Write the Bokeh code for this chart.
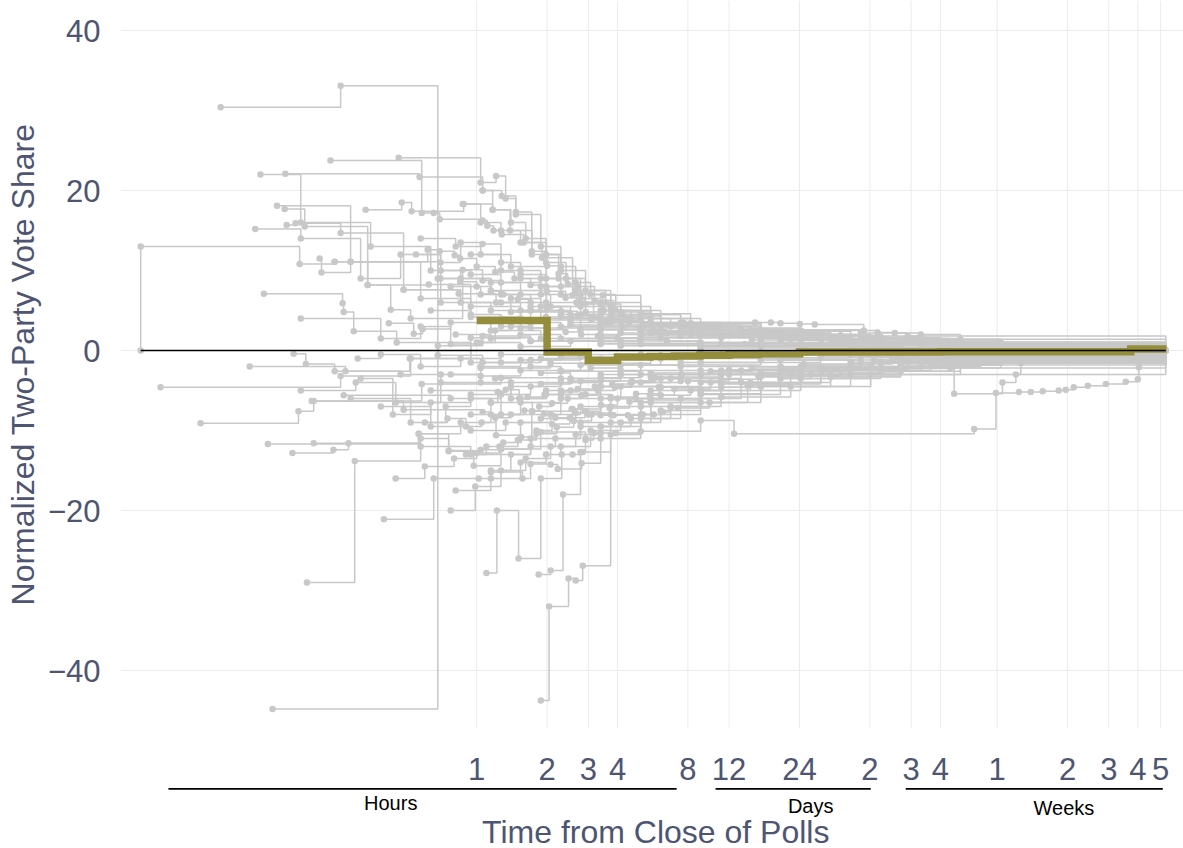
from bokeh.plotting import figure
from bokeh.layouts import column
from bokeh.models import Range1d, FixedTicker, ColumnDataSource
from bokeh.embed import file_html
from bokeh.resources import INLINE
from bokeh.core.properties import value

# ---------------- data: hours since close of polls, normalized two-party share ----------------
r01_t = [0.0366, 0.0366, 0.175, 0.247, 0.576, 0.943, 1.54, 3.39, 11.1, 48.4, 883]
r01_v = [0.0, 13.0, 10.8, 11.1, 6.5, 4.2, 2.8, 1.6, 0.8, 0.3, 0.0]
r02_t = [0.0804, 0.262, 0.682, 1.06, 1.70, 2.78, 5.03, 13.5, 65.0, 883]
r02_v = [30.4, 33.1, -0.6, -1.5, -1.2, -0.8, -0.5, -0.3, -0.1, 0.0]
r03_t = [0.134, 0.682, 1.06, 1.70, 3.39, 9.07, 39.7, 174, 883]
r03_v = [-44.8, 0.6, 1.8, 1.2, 0.9, 0.5, 0.3, 0.1, 0.0]
r04_t = [0.0445, 0.262, 0.522, 0.943, 1.70, 4.13, 24.3, 883]
r04_v = [-4.6, -3.2, -1.0, 1.6, 1.2, 0.6, 0.2, 0.0]
r05_t = [0.066, 0.173, 0.201, 0.582, 1.27, 2.29, 5.03, 16.4, 96.4, 883]
r05_v = [-9.1, -7.6, -6.3, -4.2, -3.4, -2.6, -1.8, -0.9, -0.3, 0.0]
r06_t = [0.107, 0.275, 0.517, 1.04, 2.07, 5.55, 39.7, 883]
r06_v = [-2.0, -2.6, -1.0, -2.2, -1.6, -0.9, -0.4, 0.0]
r07_t = [0.123, 0.267, 0.270, 0.298, 0.455, 0.943, 1.88, 6.12, 65.0]
r07_v = [7.1, 5.9, 4.8, 2.4, 1.0, -1.5, -1.0, -0.6, -0.2]
r08_t = [0.140, 0.289, 0.682, 1.15, 1.98, 3.39, 7.45, 24.3, 96.4, 883]
r08_v = [18.1, 11.1, 9.0, 7.5, 6.0, 4.5, 2.8, 1.5, 0.6, 0.0]
r09_t = [0.152, 0.570, 1.06, 1.28, 1.47, 1.72, 2.0, 2.24, 2.45, 2.70, 3.19, 3.85, 5.18, 9.07, 32.6, 174, 883]
r09_v = [22.1, 21.7, 20.0, 19.3, 17.3, 12.4, 10.6, 9.6, 8.3, 8.0, 6.25, 3.75, 3.1, 2.3, 1.3, 0.6, 0.0]
r10_t = [0.151, 0.184, 0.342, 0.624, 0.943, 1.54, 2.78, 6.12, 22.0, 883]
r10_v = [17.7, 15.5, 8.2, 8.25, 5.5, 4.0, 2.6, 1.6, 0.8, 0.0]
r11_t = [0.154, 0.168, 0.262, 0.487, 0.854, 1.40, 2.52, 5.03, 16.4, 883]
r11_v = [15.7, 15.9, 14.7, 7.6, 6.0, 4.8, 3.2, 2.0, 1.0, 0.0]
r12_t = [0.237, 0.582, 0.655, 0.695, 1.06, 1.11, 1.18, 1.28, 1.59, 1.90, 2.57, 2.73, 3.16, 4.47, 5.72, 11.1, 39.7, 174, 883]
r12_v = [23.75, 17.2, 17.2, 16.4, 16.25, 15.6, 15.0, 14.5, 13.5, 11.6, 6.9, 5.8, 4.2, 3.5, 2.5, 1.6, 0.8, 0.3, 0.0]
r13_t = [0.464, 1.04, 1.21, 1.33, 1.47, 1.88, 2.29, 2.92, 3.46, 5.03, 9.07, 24.3, 106, 883]
r13_v = [24.1, 21.0, 21.8, 19.0, 17.0, 13.0, 10.0, 4.8, 6.9, 4.0, 2.5, 1.5, 0.5, 0.0]
r14_t = [0.335, 0.478, 0.527, 0.880, 1.17, 1.39, 1.72, 2.24, 2.78, 3.74, 5.55, 11.1, 32.6, 117]
r14_v = [17.6, 18.5, 17.4, 18.3, 17.6, 15.0, 12.0, 9.0, 7.0, 5.0, 3.3, 2.0, 1.0, 0.4]
r15_t = [0.213, 0.217, 0.289, 0.617, 0.695, 0.805, 0.854, 1.06, 1.27, 1.54, 1.98, 2.67, 3.74, 6.12, 16.4, 53.4, 174, 883]
r15_v = [11.5, 9.75, 11.1, 12.6, 12.4, 11.9, 13.5, 13.3, 11.0, 9.5, 8.0, 6.0, 4.3, 3.0, 1.8, 0.9, 0.4, 0.0]
r16_t = [0.247, 0.342, 0.429, 0.522, 0.871, 1.06, 1.27, 1.70, 2.29, 3.39, 7.45, 24.3, 106]
r16_v = [11.1, 8.2, 5.1, 4.0, 10.1, 8.75, 7.0, 5.5, 4.2, 3.0, 1.8, 0.9, 0.3]
r17_t = [0.421, 0.538, 0.587, 0.774, 1.15, 1.88, 3.39, 9.07, 883]
r17_v = [3.4, 2.1, 2.7, 3.5, 2.5, 1.5, 0.8, 0.3, 0.0]
r18_t = [0.487, 0.837, 1.21, 1.70, 2.52, 3.39, 4.47, 7.67, 15.5, 18.1, 19.9, 24.1, 27.9, 45.2, 51.8, 61.3, 69.7, 76.9, 117, 383, 499, 883]
r18_v = [7.6, 7.1, 6.0, 5.0, 4.0, 3.5, 3.5, 3.5, 3.5, 3.5, 3.4, 3.3, 3.25, 2.5, 2.25, 2.2, 1.8, 1.5, 1.0, 0.5, 0.5, 0.0]
r20_t = [0.165, 0.186, 0.247, 0.473, 0.702, 1.04, 1.54, 2.78, 6.12, 24.3, 174]
r20_v = [-0.4, -1.7, -2.6, -3.0, -4.0, -3.2, -2.5, -1.8, -1.0, -0.5, -0.2]
r21_t = [0.270, 0.774, 1.15, 1.23, 1.33, 1.52, 1.98, 2.78, 4.13, 7.45, 19.9, 65.0, 883]
r21_v = [-5.6, -6.0, -6.5, -5.2, -4.9, -6.0, -5.0, -3.8, -3.0, -2.0, -1.2, -0.6, 0.0]
r22_t = [0.197, 0.487, 1.06, 1.15, 1.73, 1.94, 2.17, 2.57, 3.0, 3.39, 3.85, 4.43, 5.13, 5.72, 6.24, 6.75, 7.23, 9.90, 14.4, 22.0, 39.7, 65.0, 117, 883]
r22_v = [-6.3, -7.4, -7.7, -6.5, -7.6, -7.9, -8.4, -7.3, -8.0, -8.1, -8.1, -8.1, -8.0, -8.0, -7.7, -7.1, -7.2, -6.5, -4.4, -3.0, -2.2, -1.5, -0.8, 0.0]
r23_t = [0.201, 0.565, 0.759, 1.04, 1.27, 1.88, 2.92, 3.16, 3.39, 3.93, 5.03, 9.07, 12.6, 134, 166, 208, 234, 263, 308, 330, 357, 410, 490, 596, 671, 678, 691, 883]
r23_v = [-11.6, -10.4, -12.6, -12.4, -12.3, -10.2, -11.2, -10.3, -10.3, -10.3, -10.1, -8.75, -10.4, -9.8, -5.3, -5.2, -5.2, -5.1, -5.0, -4.9, -4.6, -4.4, -4.2, -3.9, -3.6, -2.1, -0.8, 0.0]
r25_t = [0.636, 1.27, 2.29, 4.13, 9.07, 24.3, 65.0, 110, 177, 202, 212, 241, 883]
r25_v = [-5.0, -8.0, -6.0, -4.5, -3.0, -2.5, -2.25, -5.4, -4.0, -3.0, -1.6, -0.7, 0.0]
r26_t = [0.401, 0.655, 1.02, 1.15, 1.57, 1.70, 2.07, 2.22, 2.81, 3.39, 5.03, 9.07, 19.9, 48.4, 117, 883]
r26_v = [-21.1, -16.0, -16.0, -15.2, -16.0, -14.2, -14.25, -14.8, -14.1, -11.0, -8.0, -5.5, -3.5, -2.0, -1.0, 0.0]
r27_t = [0.188, 0.301, 0.576, 0.943, 1.70, 2.78, 5.03, 11.1, 29.6, 79.2, 883]
r27_v = [-29.0, -13.8, -12.0, -13.0, -11.0, -9.0, -6.5, -4.2, -2.5, -1.2, 0.0]
r28_t = [0.163, 0.244, 0.283, 0.576, 0.759, 0.971, 1.27, 1.72, 2.545, 3.39, 6.12, 16.4, 53.4, 174, 883]
r28_v = [-12.8, -12.4, -11.6, -11.0, -12.5, -14.4, -12.3, -7.6, -7.3, -6.0, -4.6, -2.8, -1.4, -0.5, 0.0]
r29_t = [1.10, 1.22, 1.51, 1.88, 2.31, 2.57, 2.84, 2.92, 3.39, 5.03, 9.07, 24.3, 65.0, 174, 883]
r29_v = [-27.8, -20.0, -26.0, -16.0, -13.0, -13.0, -12.7, -11.0, -9.5, -7.0, -5.0, -3.2, -1.8, -0.8, 0.0]
r30_t = [1.84, 2.07, 2.34, 2.78, 3.74, 5.55, 11.1, 29.6, 106, 883]
r30_v = [-28.0, -27.5, -18.0, -12.7, -9.0, -6.0, -4.0, -2.2, -1.0, 0.0]
r31_t = [1.88, 2.04, 2.47, 2.65, 2.84, 3.74, 5.03, 7.45, 13.5, 32.6, 87.4, 883]
r31_v = [-43.75, -32.0, -28.5, -28.75, -26.9, -10.5, -8.5, -6.0, -4.0, -2.5, -1.2, 0.0]
r32_t = [0.871, 1.04, 1.27, 1.54, 1.98, 2.41, 2.92, 3.74, 5.55, 11.1, 32.6, 117]
r32_v = [18.3, 16.0, 15.0, 13.5, 11.0, 9.0, 7.5, 5.5, 3.5, 2.2, 1.1, 0.4]
r33_t = [1.06, 1.17, 1.40, 1.62, 1.98, 2.29, 2.65, 3.07, 3.93, 6.12, 16.4, 53.4, 883]
r33_v = [20.0, 17.6, 16.0, 14.0, 12.0, 10.5, 8.5, 7.0, 5.0, 3.2, 1.8, 0.8, 0.0]
r34_t = [0.943, 1.27, 1.54, 1.88, 2.29, 2.78, 3.39, 4.56, 6.75, 12.2, 29.6, 96.4, 883]
r34_v = [12.0, 10.0, 9.0, 8.0, 7.0, 6.0, 5.0, 4.0, 3.0, 2.2, 1.4, 0.7, 0.0]
r35_t = [0.774, 1.04, 1.40, 1.88, 2.52, 3.39, 5.03, 8.22, 16.4, 39.7, 174, 883]
r35_v = [8.0, 7.0, 6.5, 5.5, 4.5, 3.8, 3.0, 2.5, 2.0, 1.2, 0.5, 0.0]
r36_t = [0.636, 0.943, 1.27, 1.70, 2.29, 3.39, 5.55, 11.1, 24.3, 65.0, 174, 883]
r36_v = [5.0, 4.5, 4.0, 3.5, 3.0, 2.6, 2.2, 1.8, 1.4, 1.0, 0.6, 0.0]
r37_t = [0.702, 0.854, 1.15, 1.54, 2.07, 2.78, 3.74, 5.03, 9.07, 19.9, 48.4, 143, 883]
r37_v = [10.0, 9.0, 8.5, 7.0, 5.5, 4.5, 3.5, 2.8, 2.0, 1.3, 0.9, 0.5, 0.0]
r38_t = [1.27, 1.54, 1.98, 2.52, 3.39, 5.03, 8.22, 16.4, 32.6, 79.2, 883]
r38_v = [6.0, 5.0, 4.2, 3.5, 2.8, 2.3, 2.0, 1.5, 1.0, 0.7, 0.0]
r39_t = [0.813, 1.15, 1.54, 2.29, 4.13, 9.07, 24.3, 65.0, 883]
r39_v = [2.0, 1.5, 2.0, 1.5, 1.2, 1.0, 0.7, 0.4, 0.0]
r40_t = [0.774, 1.04, 1.40, 1.88, 2.52, 3.39, 5.03, 9.07, 19.9, 43.9, 117, 883]
r40_v = [-3.0, -4.0, -4.5, -4.2, -3.8, -3.4, -3.0, -2.5, -2.0, -1.5, -0.8, 0.0]
r41_t = [0.943, 1.21, 1.54, 2.07, 2.78, 3.74, 5.55, 9.07, 16.4, 36.0, 79.2, 143, 883]
r41_v = [-8.0, -10.6, -9.0, -8.0, -7.0, -6.0, -5.0, -4.0, -3.2, -2.5, -2.0, -1.2, 0.0]
r42_t = [1.15, 1.40, 1.70, 2.17, 2.78, 3.74, 5.55, 9.07, 14.8, 24.3, 53.4, 117, 174, 883]
r42_v = [-15.0, -13.0, -12.0, -11.0, -9.5, -8.0, -6.5, -5.0, -4.2, -3.5, -2.6, -1.8, -1.0, 0.0]
r43_t = [1.54, 1.98, 2.52, 3.39, 4.56, 6.75, 11.1, 19.9, 39.7, 87.4, 883]
r43_v = [-6.0, -5.5, -5.0, -4.5, -4.0, -3.5, -3.0, -2.6, -2.2, -1.8, 0.0]
r44_t = [1.27, 1.70, 2.29, 3.07, 4.13, 7.45, 16.4, 43.9, 883]
r44_v = [-1.5, -2.0, -2.5, -2.2, -1.8, -1.5, -1.2, -0.8, 0.0]
r45_t = [1.88, 2.52, 3.39, 5.55, 11.1, 24.3, 65.0, 117, 883]
r45_v = [-2.8, -3.5, -3.0, -2.8, -2.5, -2.3, -2.0, -1.0, 0.0]
r46_t = [3.39, 5.55, 9.07, 14.8, 24.3, 43.9, 79.2, 117, 174, 883]
r46_v = [2.0, 2.4, 2.6, 2.7, 2.5, 2.2, 2.0, 1.4, 1.0, 0.0]
r47_t = [0.310, 0.389, 0.576, 0.854, 1.27, 2.29, 9.07, 883]
r47_v = [-1.0, -0.5, -2.0, -1.0, -0.5, -0.5, -0.3, 0.0]
r48_t = [0.128, 0.565, 0.854, 1.15, 1.54, 2.29, 3.39, 6.12, 13.5, 39.7, 117, 883]
r48_v = [-11.7, -10.4, -9.0, -8.0, -6.5, -5.5, -4.5, -3.5, -2.5, -1.5, -0.7, 0.0]
r49_t = [0.113, 0.177, 0.319, 0.473, 0.702, 1.15, 1.88, 4.13, 16.4, 883]
r49_v = [15.2, 14.0, 9.0, 12.0, 6.0, 5.0, 3.8, 2.2, 1.0, 0.0]
r50_t = [0.177, 0.389, 0.576, 0.774, 1.04, 1.54, 2.52, 5.03, 16.4, 65.0, 883]
r50_v = [4.0, 1.5, 3.0, 0.8, 1.0, 0.5, 1.2, 0.8, 0.5, 0.2, 0.0]
r51_t = [0.319, 0.438, 0.636, 0.943, 1.40, 2.29, 4.13, 9.07, 29.6, 883]
r51_v = [-3.5, -8.0, -6.5, -5.5, -4.0, -3.5, -2.5, -1.5, -0.8, 0.0]
r52_t = [0.813, 1.15, 1.54, 1.98, 2.29, 3.07, 4.13, 6.12, 9.07, 16.4, 39.7, 117, 883]
r52_v = [-17.5, -16.0, -14.0, -13.0, -12.0, -10.0, -9.0, -7.5, -6.5, -4.5, -3.0, -1.5, 0.0]
r53_t = [1.54, 1.88, 2.29, 2.78, 3.39, 4.13, 5.55, 8.22, 13.5, 24.3, 43.9, 96.4, 883]
r53_v = [10.0, 9.0, 8.0, 6.5, 5.8, 4.8, 4.0, 3.2, 2.6, 2.0, 1.6, 1.0, 0.0]
r54_t = [0.389, 0.636, 0.943, 1.33, 1.88, 2.65, 3.74, 5.55, 9.07, 16.4, 32.6, 65.0, 883]
r54_v = [-7.0, -9.5, -10.0, -9.0, -8.5, -7.8, -7.0, -6.2, -5.4, -4.5, -3.3, -2.2, 0.0]
r55_t = [2.29, 2.92, 3.74, 4.79, 6.12, 8.22, 11.1, 14.8, 19.9, 26.8, 39.7, 53.4, 883]
r55_v = [-5.0, -5.5, -5.8, -6.0, -5.6, -5.0, -4.6, -4.0, -3.5, -3.0, -2.4, -1.6, 0.0]
r56_t = [1.27, 1.70, 2.29, 3.07, 4.13, 5.55, 8.22, 13.5, 24.3, 48.4, 96.4, 883]
r56_v = [3.0, 5.0, 4.5, 4.0, 3.6, 3.2, 2.8, 2.4, 2.0, 1.6, 1.0, 0.0]
r57_t = [0.576, 0.813, 1.04, 1.40, 1.98, 2.65, 3.56, 5.03, 8.22, 16.4, 39.7, 883]
r57_v = [14.0, 13.0, 12.0, 10.5, 9.0, 7.5, 6.0, 4.6, 3.4, 2.4, 1.4, 0.0]
r58_t = [0.289, 0.522, 0.737, 0.943, 1.27, 1.70, 2.29, 3.39, 5.55, 11.1, 24.3, 65.0, 883]
r58_v = [-6.0, -9.0, -7.0, -6.0, -5.5, -4.5, -4.0, -3.8, -3.3, -2.8, -2.0, -1.2, 0.0]
r59_t = [0.119, 0.177, 0.352, 0.636, 0.943, 1.27, 1.88, 2.78, 4.13, 7.45, 16.4, 43.9, 883]
r59_v = [22.0, 16.0, 13.0, 10.0, 9.5, 8.5, 7.0, 5.5, 4.5, 3.5, 2.6, 1.8, 0.0]
r60_t = [0.177, 0.304, 0.451, 0.702, 1.04, 1.54, 2.29, 3.39, 5.55, 11.1, 29.6, 117, 883]
r60_v = [-5.0, -4.0, -6.5, -3.0, -2.0, -1.2, -0.8, -1.0, -0.7, -0.5, -0.3, -0.2, 0.0]
r61_t = [5.03, 7.45, 11.1, 16.4, 24.3, 39.7, 65.0, 106, 174, 883]
r61_v = [-4.0, -3.8, -3.6, -3.3, -3.0, -2.8, -2.6, -2.2, -1.5, 0.0]
r62_t = [3.39, 5.03, 7.45, 11.1, 16.4, 24.3, 36.0, 53.4, 79.2, 117, 883]
r62_v = [1.5, 1.8, 2.0, 2.2, 2.3, 2.0, 1.9, 1.7, 1.2, 0.8, 0.0]
r63_t = [0.774, 0.986, 1.27, 1.62, 2.07, 2.65, 3.39, 4.56, 6.75, 11.1, 22.0, 48.4, 883]
r63_v = [-20.0, -17.0, -15.0, -13.5, -12.0, -10.5, -9.5, -8.5, -7.0, -5.8, -4.5, -3.0, 0.0]
r64_t = [0.70, 0.85, 1.0, 1.15, 1.3, 1.5, 1.7, 2.0, 2.3, 2.7, 3.1, 3.6, 4.2, 5.0, 6.5, 9.0, 15.0, 30.0, 80.0, 883]
r64_v = [9.0, 8.6, 8.0, 7.4, 7.0, 6.4, 6.0, 5.4, 4.9, 4.4, 3.9, 3.5, 3.0, 2.6, 2.2, 1.8, 1.3, 0.8, 0.4, 0.0]
r65_t = [0.60, 0.75, 0.90, 1.05, 1.2, 1.4, 1.6, 1.85, 2.1, 2.45, 2.8, 3.3, 3.9, 4.6, 5.6, 7.5, 12.0, 25.0, 60.0, 883]
r65_v = [-9.0, -8.5, -9.5, -9.0, -8.4, -8.0, -7.5, -7.0, -6.6, -6.0, -5.6, -5.0, -4.6, -4.0, -3.5, -3.0, -2.4, -1.7, -1.0, 0.0]
r66_t = [0.90, 1.1, 1.3, 1.55, 1.8, 2.1, 2.5, 2.9, 3.4, 4.0, 4.8, 6.0, 8.0, 12.0, 20.0, 40.0, 100.0, 883]
r66_v = [-13.0, -12.0, -11.5, -10.8, -10.0, -9.2, -8.4, -7.6, -6.8, -6.0, -5.4, -4.6, -3.8, -3.0, -2.2, -1.5, -0.8, 0.0]
r67_t = [0.55, 0.70, 0.85, 1.0, 1.2, 1.45, 1.7, 2.0, 2.4, 2.9, 3.5, 4.3, 5.5, 7.5, 11.0, 20.0, 50.0, 883]
r67_v = [12.0, 11.0, 11.5, 10.5, 9.8, 9.0, 8.2, 7.4, 6.6, 5.8, 5.0, 4.2, 3.4, 2.7, 2.0, 1.3, 0.6, 0.0]
r68_t = [1.2, 1.4, 1.65, 1.95, 2.3, 2.7, 3.2, 3.8, 4.6, 5.8, 7.5, 10.0, 15.0, 25.0, 50.0, 120.0, 883]
r68_v = [-3.5, -6.0, -5.8, -5.5, -5.2, -4.8, -4.5, -4.2, -3.8, -3.4, -3.0, -2.6, -2.2, -1.8, -1.2, -0.6, 0.0]
r69_t = [1.0, 1.2, 1.4, 1.7, 2.0, 2.4, 2.8, 3.3, 4.0, 5.0, 6.5, 9.0, 14.0, 25.0, 60.0, 883]
r69_v = [1.0, 2.5, 3.0, 2.8, 2.6, 2.3, 2.0, 1.8, 1.6, 1.4, 1.2, 1.0, 0.8, 0.6, 0.3, 0.0]
r70_t = [0.45, 0.60, 0.80, 1.0, 1.25, 1.5, 1.8, 2.2, 2.6, 3.1, 3.7, 4.5, 5.5, 7.0, 10.0, 16.0, 30.0, 70.0, 883]
r70_v = [-16.0, -14.5, -13.5, -12.8, -12.0, -11.2, -10.4, -9.6, -8.8, -8.0, -7.2, -6.4, -5.6, -4.8, -4.0, -3.2, -2.4, -1.4, 0.0]

# average across races (thick olive step line)
mean_t = [1.0, 2.0, 3.0, 4.0, 5.5, 7.0, 9.0, 12.0, 16.0, 24.0, 96.0, 626.0, 890.0]
mean_v = [3.75, -0.2, -1.25, -0.8, -0.75, -0.7, -0.6, -0.5, -0.4, -0.2, -0.15, 0.2, 0.2]

# axis ticks (hours) and their labels
tick_hours = [1, 2, 3, 4, 8, 12, 24, 48, 72, 96, 168, 336, 504, 672, 840]
tick_labels = ["1", "2", "3", "4", "8", "12", "24", "2", "3", "4", "1", "2", "3", "4", "5"]
y_ticks = [-40, -20, 0, 20, 40]
y_tick_labels = ["\u221240", "\u221220", "0", "20", "40"]

# unit groups under the axis (hours spanned by each bracket)
group_names = ["Hours", "Days", "Weeks"]
group_from = [0.0481, 10.5, 68.3]
group_to = [7.16, 48.4, 858.0]

series = [
    (r01_t, r01_v), (r02_t, r02_v), (r03_t, r03_v), (r04_t, r04_v), (r05_t, r05_v),
    (r06_t, r06_v), (r07_t, r07_v), (r08_t, r08_v), (r09_t, r09_v), (r10_t, r10_v),
    (r11_t, r11_v), (r12_t, r12_v), (r13_t, r13_v), (r14_t, r14_v), (r15_t, r15_v),
    (r16_t, r16_v), (r17_t, r17_v), (r18_t, r18_v), (r20_t, r20_v), (r21_t, r21_v),
    (r22_t, r22_v), (r23_t, r23_v), (r25_t, r25_v), (r26_t, r26_v), (r27_t, r27_v),
    (r28_t, r28_v), (r29_t, r29_v), (r30_t, r30_v), (r31_t, r31_v), (r32_t, r32_v),
    (r33_t, r33_v), (r34_t, r34_v), (r35_t, r35_v), (r36_t, r36_v), (r37_t, r37_v),
    (r38_t, r38_v), (r39_t, r39_v), (r40_t, r40_v), (r41_t, r41_v), (r42_t, r42_v),
    (r43_t, r43_v), (r44_t, r44_v), (r45_t, r45_v), (r46_t, r46_v), (r47_t, r47_v),
    (r48_t, r48_v), (r49_t, r49_v), (r50_t, r50_v), (r51_t, r51_v), (r52_t, r52_v),
    (r53_t, r53_v), (r54_t, r54_v), (r55_t, r55_v), (r56_t, r56_v), (r57_t, r57_v),
    (r58_t, r58_v), (r59_t, r59_v), (r60_t, r60_v), (r61_t, r61_v), (r62_t, r62_v),
    (r63_t, r63_v), (r64_t, r64_v), (r65_t, r65_v), (r66_t, r66_v), (r67_t, r67_v),
    (r68_t, r68_v), (r69_t, r69_v), (r70_t, r70_v),
]

# ---------------- styling / layout ----------------
FONT = "Liberation Sans"
TXT = "#4e5572"
GRAY = "#c8c8c8"
GRID = "#ebebeb"
OLIVE = "#948d3c"

W = 1183
MAIN_H, FOOT_H = 728, 120
Y_TOP, Y_BOTTOM = 43.75, -47.25
x_range = Range1d(0.0300, 1052.0)

# ---- main data panel ----
p = figure(width=W, height=MAIN_H, x_axis_type="log",
           x_range=x_range, y_range=Range1d(Y_BOTTOM, Y_TOP),
           x_axis_location=None, toolbar_location=None, output_backend="svg",
           min_border_left=120, min_border_right=0, min_border_top=0, min_border_bottom=0)
p.outline_line_color = None
p.background_fill_color = "white"
p.border_fill_color = "white"
p.xgrid.grid_line_color = None

p.ygrid.ticker = FixedTicker(ticks=y_ticks)
p.ygrid.grid_line_color = GRID
p.ygrid.grid_line_width = 1

ax = p.yaxis[0]
ax.ticker = FixedTicker(ticks=y_ticks)
ax.major_label_overrides = dict(zip(y_ticks, y_tick_labels))
ax.axis_line_color = None
ax.major_tick_line_color = None
ax.minor_tick_line_color = None
ax.major_tick_out = 0
ax.major_tick_in = 0
ax.minor_tick_out = 0
ax.minor_tick_in = 0
ax.major_label_standoff = 20
ax.major_label_text_font = FONT
ax.major_label_text_font_size = "31px"
ax.major_label_text_color = TXT
ax.axis_label = "Normalized Two-Party Vote Share"
ax.axis_label_text_font = FONT
ax.axis_label_text_font_size = "32px"
ax.axis_label_text_font_style = "normal"
ax.axis_label_text_color = TXT
ax.axis_label_standoff = 4

# vertical grid lines at the time ticks
p.segment(x0=tick_hours, y0=[Y_BOTTOM] * len(tick_hours), x1=tick_hours,
          y1=[Y_TOP] * len(tick_hours), line_color=GRID, line_width=1)

# individual races
for t, v in series:
    src = ColumnDataSource(dict(t=t, v=v))
    p.step("t", "v", source=src, mode="after", line_color=GRAY, line_width=1.5)
    p.scatter("t", "v", source=src, size=6.5, fill_color=GRAY, line_color=None)

# average line
p.step(mean_t, mean_v, mode="after", line_color=OLIVE, line_width=7.5, line_join="miter")

# zero reference line spanning the observed times
all_t = [x for t, _ in series for x in t]
p.line([min(all_t), max(all_t)], [0, 0], line_color="black", line_width=1.6)

# ---- footer: time tick labels, unit brackets and axis title (y in pixels from page top, negated) ----
f = figure(width=W, height=FOOT_H, x_axis_type="log", x_range=x_range,
           y_range=Range1d(-(MAIN_H + FOOT_H), -MAIN_H),
           x_axis_location=None, y_axis_location=None, toolbar_location=None,
           output_backend="svg", min_border_left=120, min_border_right=0,
           min_border_top=0, min_border_bottom=0)
f.outline_line_color = None
f.background_fill_color = "white"
f.border_fill_color = "white"
f.xgrid.grid_line_color = None
f.ygrid.grid_line_color = None

f.text(x=tick_hours, y=[-768] * len(tick_hours), text=tick_labels,
       text_align="center", text_baseline="alphabetic",
       text_font=value(FONT), text_font_size="31px", text_color=TXT)

f.segment(x0=group_from, y0=[-788.4] * 3, x1=group_to, y1=[-788.4] * 3,
          line_color="black", line_width=1.8)
group_label_x = [0.429, 26.8, 324.0]
group_label_y = [-802, -805, -807]
f.text(x=group_label_x, y=group_label_y, text=group_names, text_align="center",
       text_baseline="alphabetic", text_font=value(FONT), text_font_size="20px",
       text_color="black")

f.text(x=[5.83], y=[-831], text=["Time from Close of Polls"], text_align="center",
       text_baseline="alphabetic", text_font=value(FONT), text_font_size="32px",
       text_color=TXT)

layout = column(p, f, spacing=0)
open("out.html", "w").write(file_html(layout, INLINE))
